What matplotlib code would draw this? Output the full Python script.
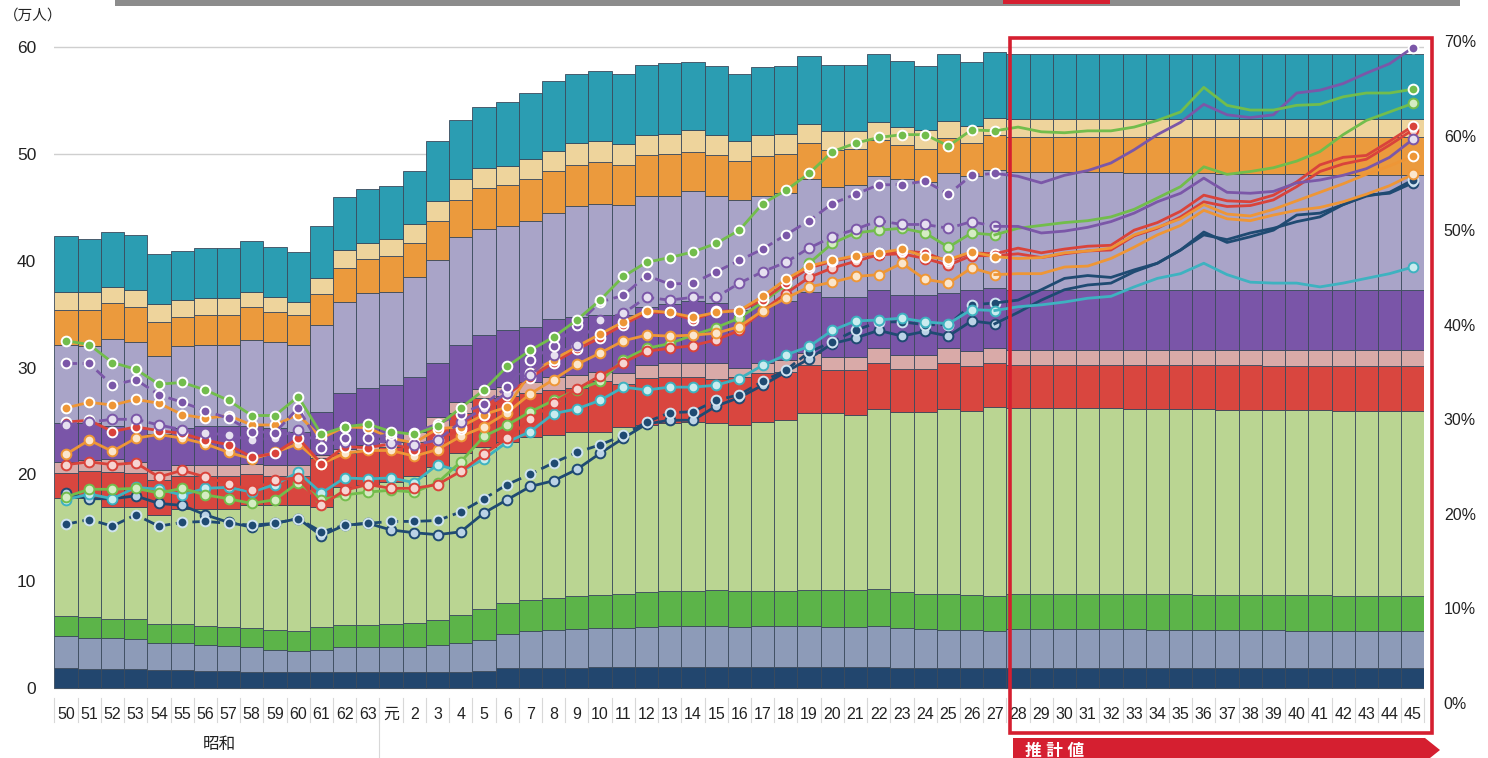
import numpy as np
import matplotlib
matplotlib.use('Agg')
import matplotlib.pyplot as plt
from matplotlib.patches import Rectangle, Polygon
from matplotlib.transforms import blended_transform_factory

plt.rcParams['font.family'] = ['Liberation Sans', 'Noto Sans CJK JP']

# ---------------- data ----------------
years = ['50', '51', '52', '53', '54', '55', '56', '57', '58', '59', '60', '61', '62', '63',
         '元', '2', '3', '4', '5', '6', '7', '8', '9', '10', '11', '12', '13', '14', '15',
         '16', '17', '18', '19', '20', '21', '22', '23', '24', '25', '26', '27',
         '28', '29', '30', '31', '32', '33', '34', '35', '36', '37', '38', '39', '40',
         '41', '42', '43', '44', '45']

# cumulative tops of the stacked bars (万人), bottom to top
navy_top = [1.9, 1.8, 1.8, 1.8, 1.7, 1.7, 1.6, 1.6, 1.5, 1.5, 1.5, 1.5, 1.5, 1.5,
            1.5, 1.5, 1.5, 1.5, 1.6, 1.9, 1.9, 1.9, 1.9, 2.0, 2.0, 2.0, 2.0, 2.0, 2.0,
            2.0, 2.0, 2.0, 2.0, 2.0, 2.0, 2.0, 1.9, 1.9, 1.9, 1.9, 1.9,
            1.9, 1.9, 1.9, 1.9, 1.9, 1.9, 1.9, 1.9, 1.9, 1.9, 1.9, 1.9, 1.9, 1.9, 1.9, 1.9, 1.9, 1.9]
grayblue_top = [4.9, 4.7, 4.7, 4.6, 4.2, 4.2, 4.0, 3.9, 3.8, 3.6, 3.5, 3.6, 3.8, 3.8,
                3.8, 3.8, 4.0, 4.2, 4.5, 5.1, 5.3, 5.4, 5.5, 5.6, 5.6, 5.7, 5.8, 5.8, 5.8,
                5.7, 5.8, 5.8, 5.8, 5.7, 5.7, 5.8, 5.6, 5.5, 5.4, 5.4, 5.3,
                5.5, 5.5, 5.5, 5.5, 5.5, 5.5, 5.4, 5.4, 5.4, 5.4, 5.4, 5.4, 5.3, 5.3, 5.3, 5.3, 5.3, 5.3]
green_top = [6.7, 6.6, 6.5, 6.5, 6.0, 6.0, 5.8, 5.7, 5.6, 5.4, 5.3, 5.7, 5.9, 5.9,
             6.0, 6.1, 6.4, 6.8, 7.4, 8.0, 8.2, 8.4, 8.6, 8.7, 8.8, 9.0, 9.1, 9.1, 9.2,
             9.1, 9.1, 9.1, 9.2, 9.2, 9.2, 9.3, 9.0, 8.8, 8.8, 8.7, 8.6,
             8.8, 8.8, 8.8, 8.8, 8.8, 8.8, 8.8, 8.8, 8.7, 8.7, 8.7, 8.7, 8.7, 8.7, 8.6, 8.6, 8.6, 8.6]
lgreen_top = [17.8, 17.8, 16.9, 16.9, 16.2, 16.8, 16.8, 16.8, 17.1, 17.1, 17.1, 16.9, 18.8, 19.0,
              19.3, 19.8, 20.7, 22.0, 22.6, 23.0, 23.5, 23.7, 24.0, 24.0, 24.4, 24.6, 24.8, 24.9, 24.8,
              24.6, 24.9, 25.1, 25.7, 25.7, 25.6, 26.1, 25.8, 25.8, 26.1, 25.9, 26.3,
              26.2, 26.2, 26.2, 26.2, 26.2, 26.1, 26.1, 26.1, 26.1, 26.0, 26.0, 26.0, 26.0, 26.0, 25.9, 25.9, 25.9, 25.9]
red_top = [20.1, 20.3, 20.2, 20.1, 19.5, 19.8, 19.8, 19.8, 20.0, 19.8, 19.8, 21.5, 22.0, 22.3,
           22.6, 23.0, 24.4, 25.7, 27.1, 27.3, 27.6, 27.9, 28.1, 28.7, 28.5, 29.0, 29.1, 29.1, 28.9,
           29.1, 29.5, 29.6, 30.2, 29.8, 29.8, 30.4, 29.9, 29.9, 30.4, 30.1, 30.4,
           30.2, 30.2, 30.2, 30.2, 30.2, 30.2, 30.2, 30.2, 30.2, 30.2, 30.2, 30.1, 30.1, 30.1, 30.1, 30.1, 30.1, 30.1]
pink_top = [21.2, 21.3, 21.4, 21.2, 20.4, 20.9, 20.9, 20.9, 21.0, 20.9, 20.9, 21.8, 22.4, 22.7,
            23.0, 24.0, 25.4, 26.8, 28.0, 28.2, 28.6, 29.1, 29.3, 29.6, 29.5, 30.2, 30.4, 30.4, 30.4,
            30.0, 30.4, 30.7, 31.4, 31.0, 31.0, 31.8, 31.2, 31.2, 31.8, 31.5, 31.8,
            31.6, 31.6, 31.6, 31.6, 31.6, 31.6, 31.6, 31.6, 31.6, 31.6, 31.6, 31.6, 31.6, 31.6, 31.6, 31.6, 31.6, 31.6]
purple_top = [24.8, 24.8, 24.5, 24.3, 23.8, 24.3, 24.5, 24.5, 24.5, 24.3, 24.0, 25.8, 27.6, 28.1,
              28.4, 29.1, 30.4, 32.1, 33.0, 33.5, 33.8, 34.5, 34.7, 34.9, 34.9, 35.7, 35.9, 36.2, 36.0,
              35.4, 35.9, 36.2, 37.1, 36.6, 36.6, 37.3, 36.8, 36.8, 37.0, 37.3, 37.4,
              37.3, 37.3, 37.3, 37.3, 37.3, 37.3, 37.3, 37.3, 37.3, 37.3, 37.3, 37.3, 37.3, 37.3, 37.3, 37.3, 37.3, 37.3]
lavender_top = [32.1, 32.0, 32.7, 32.4, 31.1, 32.0, 32.1, 32.1, 32.6, 32.4, 32.1, 34.0, 36.1, 37.0,
                37.1, 38.5, 40.1, 42.2, 43.0, 43.2, 43.7, 44.5, 45.1, 45.3, 45.2, 46.1, 46.1, 46.5, 46.1,
                45.7, 46.1, 46.3, 47.6, 46.9, 47.1, 47.9, 47.6, 47.4, 48.2, 47.9, 48.5,
                48.3, 48.3, 48.3, 48.3, 48.3, 48.2, 48.2, 48.2, 48.2, 48.1, 48.1, 48.1, 48.1, 48.0, 48.0, 48.0, 48.0, 48.0]
orange_top = [35.4, 35.4, 36.0, 35.7, 34.3, 34.7, 34.9, 34.9, 35.7, 35.2, 34.9, 36.9, 39.3, 40.2,
              40.4, 41.7, 43.7, 45.7, 46.8, 47.1, 47.6, 48.4, 49.0, 49.2, 49.0, 49.9, 50.0, 50.2, 49.9,
              49.3, 49.8, 50.0, 51.0, 50.4, 50.5, 51.3, 50.8, 50.5, 51.5, 51.0, 51.8,
              51.6, 51.6, 51.6, 51.6, 51.6, 51.6, 51.6, 51.6, 51.6, 51.6, 51.6, 51.6, 51.6, 51.6, 51.6, 51.6, 51.6, 51.6]
beige_top = [37.1, 37.1, 37.5, 37.3, 35.9, 36.3, 36.5, 36.5, 37.1, 36.6, 36.1, 38.4, 41.0, 41.7,
             42.0, 43.4, 45.6, 47.6, 48.7, 48.9, 49.5, 50.3, 51.0, 51.2, 50.9, 51.8, 51.9, 52.2, 51.8,
             51.2, 51.8, 51.9, 52.8, 52.1, 52.1, 53.0, 52.5, 52.2, 53.1, 52.6, 53.4,
             53.3, 53.3, 53.3, 53.3, 53.3, 53.3, 53.3, 53.3, 53.3, 53.3, 53.3, 53.3, 53.3, 53.3, 53.3, 53.3, 53.3, 53.3]
teal_top = [42.3, 42.0, 42.7, 42.4, 40.6, 40.9, 41.2, 41.2, 41.8, 41.3, 40.8, 43.2, 46.0, 46.7,
            47.0, 48.4, 51.2, 53.2, 54.4, 54.9, 55.7, 56.8, 57.5, 57.8, 57.5, 58.3, 58.5, 58.6, 58.2,
            57.5, 58.1, 58.2, 59.2, 58.3, 58.3, 59.3, 58.7, 58.2, 59.3, 58.6, 59.5,
            59.3, 59.3, 59.3, 59.3, 59.3, 59.3, 59.3, 59.3, 59.3, 59.3, 59.3, 59.3, 59.3, 59.3, 59.3, 59.3, 59.3, 59.3]

# ratio lines (%)
green_a = [38.3, 37.9, 36.0, 35.3, 33.7, 33.9, 33.1, 32.0, 30.4, 30.4, 32.4, 28.4, 29.2, 29.5,
           28.7, 28.4, 29.3, 31.2, 33.1, 35.6, 37.3, 38.7, 40.5, 42.6, 45.1, 46.6, 47.1, 47.7, 48.6,
           50.0, 52.8, 54.2, 56.0, 58.3, 59.2, 59.8, 60.1, 60.1, 58.9, 60.6, 60.5,
           60.9, 60.4, 60.3, 60.5, 60.5, 60.9, 61.6, 62.5, 65.1, 63.2, 62.7, 62.7, 63.2, 63.3, 64.1, 64.5, 64.5, 64.9]
purple_a = [35.9, 35.9, 33.6, 34.2, 32.6, 31.8, 30.9, 30.1, 28.7, 28.6, 31.2, 27.0, 28.0, 28.0,
            28.4, 28.6, 29.5, 30.6, 31.6, 33.4, 36.3, 37.7, 40.0, 42.4, 43.1, 45.2, 44.3, 44.4, 45.6,
            46.8, 48.0, 49.5, 51.0, 52.8, 53.8, 54.8, 54.8, 55.2, 53.8, 55.8, 56.0,
            55.7, 55.0, 55.8, 56.3, 57.1, 58.5, 60.1, 61.4, 63.3, 62.2, 61.9, 62.2, 64.5, 64.8, 65.5, 66.6, 67.6, 69.3]
purple_b = [29.4, 29.7, 30.0, 30.0, 29.4, 28.9, 28.6, 28.3, 27.8, 28.0, 28.9, 27.3, 27.6, 27.8,
            27.5, 27.3, 27.8, 29.7, 31.2, 32.8, 34.7, 36.8, 37.9, 40.5, 41.2, 42.9, 42.6, 42.9, 42.9,
            44.4, 45.6, 46.6, 48.1, 49.3, 50.1, 51.0, 50.6, 50.6, 50.2, 50.9, 50.4,
            50.4, 49.7, 49.9, 50.3, 50.9, 51.8, 53.0, 53.9, 55.5, 54.0, 53.9, 54.1, 55.0, 55.3, 55.8, 56.5, 57.7, 59.6]
green_b = [21.8, 22.6, 22.6, 22.7, 22.2, 22.7, 22.0, 21.6, 21.1, 21.5, 23.3, 21.5, 22.0, 22.3,
           22.5, 22.3, 23.3, 25.5, 28.2, 29.4, 30.8, 32.0, 33.1, 34.0, 36.3, 37.5, 38.0, 38.9, 39.7,
           40.7, 42.4, 44.2, 46.5, 48.6, 49.7, 50.0, 50.2, 49.7, 48.2, 49.7, 49.5,
           50.2, 50.5, 50.8, 51.0, 51.4, 52.2, 53.4, 54.6, 56.7, 55.9, 56.2, 56.6, 57.3, 58.3, 60.1, 61.6, 62.5, 63.4]
red_a = [29.7, 29.9, 28.7, 29.2, 28.8, 28.5, 27.8, 27.3, 26.0, 26.4, 28.0, 25.3, 27.1, 27.0,
         27.4, 26.8, 27.8, 29.0, 30.6, 32.6, 34.4, 36.0, 37.4, 38.6, 40.0, 41.3, 41.3, 40.5, 41.4,
         41.5, 42.6, 44.4, 46.0, 46.7, 47.2, 47.6, 47.8, 47.6, 46.7, 47.6, 47.5,
         48.1, 47.6, 48.0, 48.3, 48.4, 50.0, 50.8, 52.0, 53.7, 53.1, 53.0, 53.7, 55.1, 56.9, 57.7, 57.9, 59.4, 61.0]
red_b = [25.2, 25.5, 25.2, 25.4, 23.9, 24.6, 23.9, 23.2, 22.5, 23.6, 23.8, 20.9, 22.5, 23.1,
         22.7, 22.7, 23.1, 24.5, 26.3, 28.0, 30.0, 31.7, 33.2, 34.6, 36.0, 37.2, 37.5, 37.8, 38.4,
         39.4, 41.5, 43.3, 45.0, 46.0, 46.7, 47.4, 47.5, 47.0, 46.3, 47.3, 47.3,
         47.5, 47.1, 47.5, 47.8, 47.9, 49.4, 50.2, 51.4, 53.0, 52.5, 52.6, 53.2, 54.6, 56.2, 57.0, 57.5, 59.0, 60.6]
orange_a = [31.2, 31.8, 31.5, 32.1, 31.7, 30.5, 30.1, 30.4, 29.4, 29.4, 30.5, 28.0, 29.2, 29.1,
            28.0, 27.5, 29.0, 29.2, 30.5, 31.3, 34.9, 36.3, 37.7, 39.0, 40.3, 41.5, 41.3, 40.8, 41.3,
            41.5, 43.0, 44.8, 46.2, 46.8, 47.3, 47.6, 48.0, 47.2, 46.9, 47.7, 47.2,
            47.0, 47.1, 47.6, 47.8, 48.1, 49.5, 50.3, 51.2, 52.7, 51.7, 51.5, 52.2, 53.1, 54.0, 54.9, 55.9, 56.8, 57.8]
orange_b = [26.3, 27.8, 26.6, 28.0, 28.4, 28.0, 27.4, 26.5, 25.8, 26.5, 27.4, 25.3, 26.4, 26.7,
            26.7, 26.1, 26.8, 28.2, 29.2, 30.7, 32.7, 34.2, 35.8, 37.0, 38.3, 38.9, 38.8, 38.9, 39.1,
            39.8, 41.5, 42.8, 44.0, 44.5, 45.1, 45.3, 46.5, 44.8, 44.4, 46.0, 45.3,
            45.4, 45.4, 46.1, 46.2, 47.0, 48.2, 49.5, 50.5, 52.1, 51.2, 51.0, 51.6, 52.1, 52.4, 53.0, 53.8, 54.7, 55.9]
teal = [21.5, 22.1, 21.6, 22.8, 22.6, 22.0, 22.7, 22.8, 22.3, 23.1, 24.4, 22.2, 23.8, 23.7,
        23.8, 23.3, 25.2, 24.5, 25.8, 27.6, 28.7, 30.6, 31.1, 32.0, 33.4, 33.1, 33.4, 33.4, 33.6,
        34.3, 35.7, 36.8, 37.7, 39.4, 40.4, 40.5, 40.7, 40.3, 40.1, 41.6, 41.5,
        41.9, 42.1, 42.4, 42.8, 43.0, 44.0, 44.9, 45.4, 46.5, 45.3, 44.5, 44.4, 44.4, 44.0, 44.4, 44.9, 45.4, 46.1]
navy_a = [18.9, 19.4, 18.7, 19.9, 18.7, 19.1, 19.2, 19.0, 18.8, 19.0, 19.5, 18.1, 18.8, 19.0,
          19.2, 19.2, 19.3, 20.2, 21.6, 23.1, 24.2, 25.4, 26.5, 27.3, 28.3, 29.7, 30.7, 30.8, 32.0,
          32.6, 34.0, 35.2, 37.1, 38.2, 39.4, 40.3, 40.3, 40.0, 40.0, 42.1, 42.3,
          42.6, 43.7, 44.9, 45.2, 45.0, 45.8, 46.5, 47.9, 49.8, 48.7, 49.3, 50.0, 51.6, 51.8, 52.7, 53.6, 54.0, 55.3]
navy_b = [22.2, 21.6, 21.6, 21.9, 21.1, 20.9, 19.9, 19.1, 18.6, 19.0, 19.5, 17.7, 18.8, 19.0,
          18.3, 18.0, 17.8, 18.1, 20.1, 21.5, 22.9, 23.5, 24.7, 26.4, 28.0, 29.5, 29.9, 29.9, 31.4,
          32.3, 33.6, 35.0, 36.4, 38.0, 38.6, 39.4, 38.8, 39.3, 38.8, 40.4, 40.1,
          41.3, 42.6, 43.7, 44.2, 44.4, 45.6, 46.5, 47.9, 49.5, 49.0, 49.7, 50.2, 50.9, 51.4, 52.7, 53.7, 53.9, 55.0]

last_actual = 40  # index of 平成27, projections follow

# ---------------- figure ----------------
W, H = 1488, 758
fig = plt.figure(figsize=(W / 100, H / 100), dpi=100)
fig.patch.set_facecolor('white')

x0, x1 = 54.4, 1424.4
ytop, ybot = 38, 703
ax = fig.add_axes([x0 / W, (H - ybot) / H, (x1 - x0) / W, (ybot - ytop) / H])
x = np.arange(len(years))

stack = [navy_top, grayblue_top, green_top, lgreen_top, red_top, pink_top,
         purple_top, lavender_top, orange_top, beige_top, teal_top]
stack_colors = ['#22466e', '#8d9bb8', '#5cb449', '#bad592', '#d9463f', '#d9aaa8',
                '#7a55a8', '#a9a4c8', '#eb9a3d', '#eed49c', '#2b9db2']
prev = np.zeros(len(years))
for top, col in zip(stack, stack_colors):
    top = np.array(top)
    ax.bar(x, top - prev, bottom=prev, width=1.0, color=col,
           edgecolor='#3b4a5c', linewidth=0.6, zorder=2)
    prev = top

ax.set_xlim(-0.5, len(years) - 0.5)
ax.set_ylim((688 - ybot) / 10.683, (688 - ytop) / 10.683)
ax.set_yticks([0, 10, 20, 30, 40, 50, 60])
ax.set_yticklabels(['0', '10', '20', '30', '40', '50', '60'], fontsize=12.5, color='#222222')
ax.tick_params(axis='y', length=0, pad=13)
ax.set_xticks(x)
ax.set_xticklabels(years, fontsize=11.5, color='#222222')
ax.tick_params(axis='x', length=0, pad=3)
ax.grid(axis='y', color='#cfcfcf', linewidth=1.0, zorder=0)
ax.set_axisbelow(True)
for s in ax.spines.values():
    s.set_visible(False)

# ratio lines on right axis
ax2 = ax.twinx()
ax2.set_ylim(0, (ybot - ytop) / 9.457)
ax2.set_yticks([0, 10, 20, 30, 40, 50, 60, 70])
ax2.set_yticklabels([f'{v}%' for v in range(0, 71, 10)], fontsize=11.5, color='#222222')
ax2.tick_params(axis='y', length=0, pad=14)
for s in ax2.spines.values():
    s.set_visible(False)

C_GREEN, C_PURPLE, C_RED = '#72bd4c', '#7b57a8', '#d9433b'
C_ORANGE, C_TEAL, C_NAVY = '#ee9636', '#3eb2c0', '#1f4a72'
lines = [
    (navy_b, C_NAVY, '-', '#bcd3e6', C_NAVY),
    (navy_a, C_NAVY, (0, (4, 2)), C_NAVY, '#cfe3f0'),
    (teal, C_TEAL, '-', '#c9ecef', C_TEAL),
    (green_b, C_GREEN, '-', '#d5ecc3', C_GREEN),
    (red_b, C_RED, '-', '#f6d5d2', C_RED),
    (orange_b, C_ORANGE, '-', '#fbe6cc', C_ORANGE),
    (red_a, C_RED, '-', C_RED, '#ffffff'),
    (orange_a, C_ORANGE, '-', C_ORANGE, '#ffffff'),
    (purple_b, C_PURPLE, (0, (4, 2)), '#e6e0f0', C_PURPLE),
    (purple_a, C_PURPLE, (0, (4, 2)), C_PURPLE, '#ffffff'),
    (green_a, C_GREEN, '-', C_GREEN, '#ffffff'),
]
for vals, col, ls, mfc, mec in lines:
    vals = np.array(vals)
    ax2.plot(x[:last_actual + 1], vals[:last_actual + 1], color=col, lw=2.0, ls=ls,
             marker='o', ms=7, mfc=mfc, mec=mec, mew=1.4, zorder=4)
    ax2.plot(x[last_actual:], vals[last_actual:], color=col, lw=2.0, ls='-', zorder=4)
    ax2.plot(x[-1:], vals[-1:], marker='o', ms=7, mfc=mfc, mec=mec, mew=1.4,
             color=col, zorder=5)

# separators in the label row
tr = blended_transform_factory(ax.transData, ax.transAxes)
for b in np.arange(-0.5, len(years), 1.0):
    ax.plot([b, b], [(ybot - 698) / (ybot - ytop), (ybot - 722) / (ybot - ytop)],
            transform=tr, color='#d8d8d8', lw=0.8, clip_on=False)
ax.plot([13.5, 13.5], [0, (ybot - H) / (ybot - ytop)], transform=tr,
        color='#d8d8d8', lw=0.8, clip_on=False)
ax.text(6.6, (ybot - 745) / (ybot - ytop), '昭和', transform=tr, fontsize=12,
        ha='center', va='center', color='#222222')

# estimate frame and banner
fig.add_artist(Rectangle((1010 / W, (H - 733) / H), 422 / W, 695 / H,
                         transform=fig.transFigure, fill=False, ec='#d51f30',
                         lw=2.6, zorder=10))
banner = [(1013, 738), (1425, 738), (1440, 750), (1425, 762), (1013, 762)]
fig.add_artist(Polygon([(px / W, (H - py) / H) for px, py in banner], closed=True,
                       transform=fig.transFigure, fc='#d51f30', ec='none', zorder=10))
fig.text(1025 / W, (H - 751) / H, '推 計 値', color='white', fontsize=12,
         fontweight='bold', ha='left', va='center', zorder=11)

# header strip and unit label
fig.add_artist(Rectangle((115 / W, (H - 6) / H), (1460 - 115) / W, 6 / H,
                         transform=fig.transFigure, fc='#8c8c8c', ec='none'))
fig.add_artist(Rectangle((1003 / W, (H - 4) / H), 107 / W, 4 / H,
                         transform=fig.transFigure, fc='#d51f30', ec='none'))
fig.text(4 / W, (H - 16) / H, '（万人）', fontsize=10.5, ha='left', va='center', color='#222222')

fig.savefig('out.png', dpi=100)
